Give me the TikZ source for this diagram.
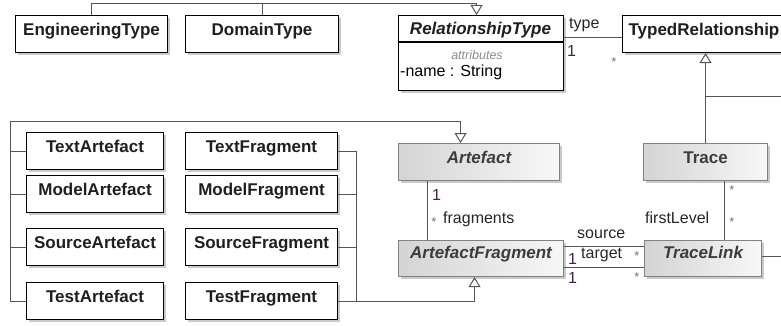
\documentclass[tikz,border=0pt]{standalone}
\usepackage{fontspec}
\setmainfont{Liberation Sans}
\usetikzlibrary{arrows.meta,shadows}
\definecolor{linec}{RGB}{85,85,85}
\definecolor{multc}{RGB}{70,30,80}
\definecolor{gborder}{RGB}{130,130,130}
\definecolor{txtgray}{RGB}{60,60,60}
\begin{document}
\begin{tikzpicture}[x=1pt,y=-1pt,
  wbox/.style={draw=black, line width=1.1pt, fill=white,
    drop shadow={shadow xshift=2.5pt, shadow yshift=-2.5pt, fill=black!35, opacity=0.6},
    inner xsep=0pt, inner ysep=0pt, text height=20pt, text depth=17pt,
    anchor=north west, font=\fontsize{17}{20}\selectfont\bfseries, text=black!88},
  gbox/.style={wbox, draw=gborder, left color=black!17, right color=black!3,
    font=\fontsize{17}{20}\selectfont\bfseries\itshape, text=txtgray},
  conn/.style={draw=linec, line width=1pt},
  gen/.style={conn, -{Triangle[open, length=10pt, width=12pt]}},
  role/.style={font=\fontsize{16}{18}\selectfont, text=black!85, inner sep=0pt},
  one/.style={font=\fontsize{16}{18}\selectfont, text=multc, inner sep=0pt},
  many/.style={font=\fontsize{13}{14}\selectfont, text=black!55, inner sep=0pt}
]
\clip (0,0) rectangle (781,326);

% top row
\node[wbox, minimum width=152pt] (eng) at (15,15) {EngineeringType};
\node[wbox, minimum width=153pt] (dom) at (185,15) {DomainType};
\node[wbox, minimum width=165pt, minimum height=75pt, text height=0pt, text depth=0pt] (rt) at (398,15) {};
\node[anchor=base, inner sep=0pt, font=\fontsize{17}{20}\selectfont\bfseries\itshape, text=black!88] (rtname) at (480.5,35) {RelationshipType};
\draw[black, line width=1.1pt] ([yshift=-27pt]rt.north west) -- ([yshift=-27pt]rt.north east);
\node[anchor=base, inner sep=0pt, font=\fontsize{12.5}{14}\selectfont\itshape, text=black!45] (attr) at (477,60) {attributes};
\node[anchor=base west, inner sep=0pt, font=\fontsize{16}{18}\selectfont] (nm) at (400,77) {-name : String};
\node[wbox, minimum width=180pt, align=left, text width=168pt, inner xsep=6pt] (tr) at (622,15) {TypedRelationship};

% artefacts
\node[wbox, minimum width=137pt] (txa) at (26,132) {TextArtefact};
\node[wbox, minimum width=137pt] (mda) at (26,175) {ModelArtefact};
\node[wbox, minimum width=137pt] (sra) at (26,228) {SourceArtefact};
\node[wbox, minimum width=137pt] (tsa) at (26,282) {TestArtefact};
% fragments
\node[wbox, minimum width=152pt] (txf) at (185,132) {TextFragment};
\node[wbox, minimum width=152pt] (mdf) at (185,175) {ModelFragment};
\node[wbox, minimum width=152pt] (srf) at (185,228) {SourceFragment};
\node[wbox, minimum width=152pt] (tsf) at (185,282) {TestFragment};

% gray classes
\node[gbox, minimum width=161pt] (art) at (398,143) {Artefact};
\node[gbox, minimum width=124pt, font=\fontsize{17}{20}\selectfont\bfseries] (trc) at (643,143) {Trace};
\node[gbox, minimum width=165pt, text height=18pt, text depth=18pt] (af) at (398,240) {ArtefactFragment};
\node[gbox, minimum width=117pt, text height=18pt, text depth=18pt] (tl) at (644,240) {TraceLink};

% generalisation to RelationshipType
\draw[conn] (dom.north) -- ++(0,-11);
\draw[gen] (eng.north) -- ++(0,-11) -| ([xshift=-4.5pt]rt.north);

% generalisation to Artefact
\coordinate (ja) at (10,122);
\draw[conn] (txa.west) -- (txa.west -| ja);
\draw[conn] (mda.west) -- (mda.west -| ja);
\draw[conn] (sra.west) -- (sra.west -| ja);
\draw[gen] (tsa.west) -| (ja) -| ([xshift=-18.5pt]art.north);

% generalisation to ArtefactFragment
\coordinate (jf) at (356,150);
\draw[conn] (txf.east) -- (txf.east -| jf) -- (tsf.east -| jf);
\draw[conn] (mdf.east) -- (mdf.east -| jf);
\draw[conn] (srf.east) -- (srf.east -| jf);
\draw[gen] (tsf.east) -| ([xshift=-6.5pt]af.south);

% generalisation to TypedRelationship
\draw[gen] (trc.north) -- (trc.north |- tr.south);
\coordinate (offA) at (800,97);
\draw[conn] (trc.north |- offA) -- (offA);
\coordinate (offB) at (800,256);
\draw[conn] (tl.east |- offB) -- (offB);

% associations
\draw[conn] ([yshift=-23pt]rt.north east) -- ([yshift=-23pt]tr.north west);
\draw[conn] ([xshift=-51.5pt]art.south) -- ([xshift=-51.5pt]art.south |- af.north);
\draw[conn] ([xshift=19pt]trc.south) -- ([xshift=19pt]trc.south |- tl.north);
\draw[conn] ([yshift=-6pt]af.north east) -- ([yshift=-6pt]af.north east -| tl.west);
\draw[conn] ([yshift=-27pt]af.north east) -- ([yshift=-27pt]af.north east -| tl.west);

% labels
\node[role, anchor=base west] (ltype) at (569,29) {type};
\node[one, anchor=base west] (l1a) at (567,57) {1};
\node[many] (lsa) at (614,62) {*};

\node[one, anchor=base west] (l1b) at (432,200) {1};
\node[many] (lsb) at (434,222) {*};
\node[role, anchor=base west] (lfrag) at (443,223) {fragments};

\node[many] (lsc) at (732,190) {*};
\node[many] (lsd) at (732,222) {*};
\node[role, anchor=base west] (lfirst) at (645,223) {firstLevel};

\node[role, anchor=base west] (lsrc) at (577,238) {source};
\node[role, anchor=base west] (ltgt) at (581,258) {target};
\node[one, anchor=base west] (l1c) at (568,264) {1};
\node[one, anchor=base west] (l1d) at (568,283) {1};
\node[many] (lse) at (637,256) {*};
\node[many] (lsf) at (637,277) {*};
\end{tikzpicture}
\end{document}
